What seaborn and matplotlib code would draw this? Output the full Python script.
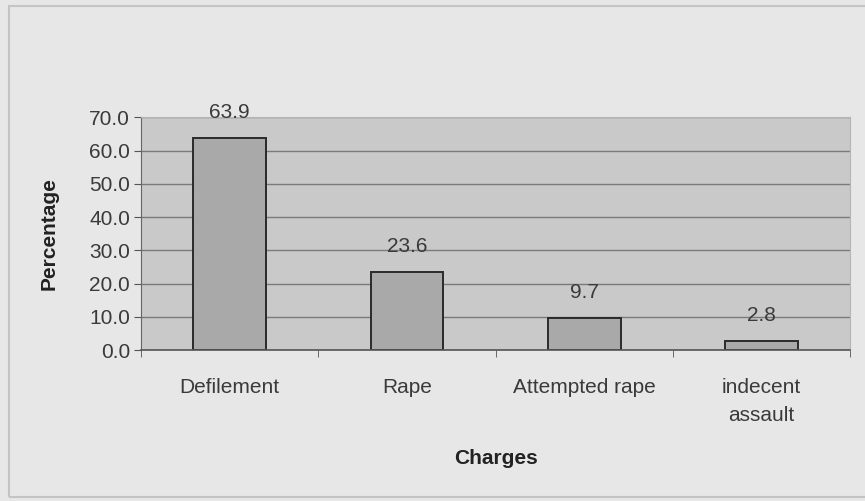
import matplotlib
matplotlib.use("Agg")
import matplotlib.pyplot as plt
from matplotlib.patches import Rectangle
import seaborn as sns
import pandas as pd

charges = ["Defilement", "Rape", "Attempted rape", "indecent\nassault"]
percentages = [63.9, 23.6, 9.7, 2.8]
y_ticks = [0, 10, 20, 30, 40, 50, 60, 70]

sns.set_style("white")
plt.rcParams["font.family"] = ["Liberation Sans", "DejaVu Sans"]

df = pd.DataFrame({"Charges": charges, "Percentage": percentages})

fig = plt.figure(figsize=(8.65, 5.01), dpi=100, facecolor="#e7e7e7")
ax = fig.add_axes([0.163, 0.301, 0.820, 0.465])
ax.set_facecolor("#c9c9c9")

# outer chart frame
fig.patches.append(Rectangle((0.010, 0.008), 1.2, 0.98, transform=fig.transFigure,
                             fill=False, edgecolor="#c4c4c4", linewidth=1.5))

sns.barplot(data=df, x="Charges", y="Percentage", ax=ax, color="#a9a9a9",
            edgecolor="#2a2a2a", linewidth=1.4, width=0.41, saturation=1)

for patch, v in zip(ax.patches, percentages):
    ax.text(patch.get_x() + patch.get_width() / 2, v + 4.7, f"{v:.1f}",
            ha="center", va="bottom", fontsize=15, color="#3a3a3a")

ax.set_ylim(0, 70)
ax.set_xlim(-0.5, len(charges) - 0.5)
ax.set_yticks(y_ticks)
ax.set_yticklabels([f"{t:.1f}" for t in y_ticks], fontsize=15, color="#3a3a3a")
ax.yaxis.grid(True, color="#7a7a7a", linewidth=1.0)
ax.set_axisbelow(True)
ax.tick_params(axis="y", length=5, color="#555555", left=True, pad=3)
ax.tick_params(axis="x", labelsize=15, labelcolor="#3a3a3a", length=0, pad=20)
for lbl in ax.get_xticklabels():
    lbl.set_linespacing(1.6)

# category boundary ticks on the x axis
ax.set_xticks([i + 0.5 for i in range(-1, len(charges))], minor=True)
ax.tick_params(axis="x", which="minor", length=5, color="#555555", bottom=True)

for side in ["top", "right"]:
    ax.spines[side].set_color("#b5b5b5")
ax.spines["left"].set_color("#666666")
ax.spines["bottom"].set_color("#555555")
ax.spines["bottom"].set_linewidth(1.2)

ax.set_ylabel("Percentage", fontsize=15, fontweight="bold", color="#222222", labelpad=22)
ax.set_xlabel("Charges", fontsize=15, fontweight="bold", color="#222222", labelpad=17)

fig.savefig("out.png", dpi=100, facecolor=fig.get_facecolor())
